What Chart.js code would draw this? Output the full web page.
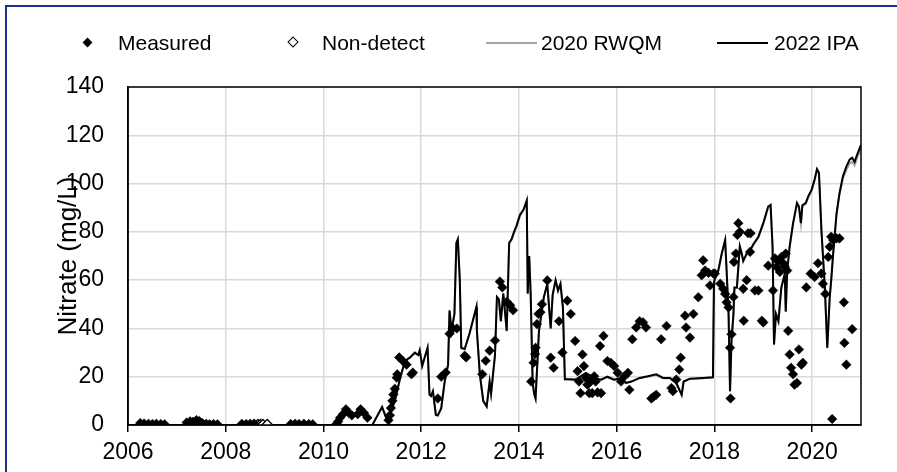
<!DOCTYPE html>
<html>
<head>
<meta charset="utf-8">
<script src="https://cdn.jsdelivr.net/npm/chart.js@4"></script>
<style>
  html, body { margin: 0; padding: 0; overflow: hidden; background: #fff; }
  #wrap { position: relative; width: 897px; height: 472px; overflow: hidden; font-family: "Liberation Sans", Arial, sans-serif; }
  #frame { position: absolute; left: 5px; top: 5px; width: 1000px; height: 1000px; border: 2px solid #1f2f8f; box-sizing: border-box; }
  canvas { position: absolute; left: 0; top: 0; }
  .lg { position: absolute; font-size: 21px; line-height: 24px; top: 31px; color: #000; white-space: nowrap; }
  .dia { position: absolute; width: 7px; height: 7px; transform: rotate(45deg); top: 39px; box-sizing: border-box; }
  .ln { position: absolute; height: 2px; top: 42px; }
</style>
</head>
<body>
<div id="wrap">
  <div id="frame"></div>
  <canvas id="c" width="897" height="472"></canvas>
  <div class="dia" style="left:84px; background:#000;"></div>
  <div class="lg" style="left:118px;">Measured</div>
  <div class="dia" style="left:289px; background:#fff; border:1.5px solid #000; width:8px; height:8px; top:38px;"></div>
  <div class="lg" style="left:322px;">Non-detect</div>
  <div class="ln" style="left:486px; width:51px; background:#a6a6a6;"></div>
  <div class="lg" style="left:541px;">2020 RWQM</div>
  <div class="ln" style="left:717px; width:51px; background:#000;"></div>
  <div class="lg" style="left:774px;">2022 IPA</div>
</div>
<script>
const xTickValues = [2006, 2008, 2010, 2012, 2014, 2016, 2018, 2020];
const yTickValues = [0, 20, 40, 60, 80, 100, 120, 140];

const measYears = [
  2006.25,2006.33,2006.42,2006.5,2006.58,2006.67,2006.75,
  2007.2,2007.27,2007.33,2007.4,2007.46,2007.52,2007.6,2007.67,2007.75,2007.83,
  2008.33,2008.42,2008.5,2008.58,
  2009.33,2009.42,2009.5,2009.6,2009.7,2009.78,
  2010.27,2010.3,2010.34,2010.4,2010.46,2010.52,2010.58,2010.7,2010.76,2010.83,2010.9,
  2011.33,2011.36,2011.38,2011.41,2011.43,2011.46,2011.5,2011.51,2011.55,2011.62,2011.7,2011.8,2011.83,
  2012.34,2012.41,2012.5,2012.58,2012.65,2012.73,2012.89,2012.92,
  2013.25,2013.32,2013.4,2013.51,2013.61,2013.66,2013.75,2013.82,2013.88,
  2014.25,2014.3,2014.33,2014.34,2014.37,2014.4,2014.44,2014.47,2014.58,2014.65,2014.71,2014.82,2014.89,2014.99,
  2015.06,2015.15,2015.2,2015.23,2015.26,2015.3,2015.33,2015.37,2015.4,2015.44,2015.47,2015.5,2015.54,2015.57,2015.61,2015.66,2015.68,2015.73,2015.81,2015.88,2015.95,
  2016.02,2016.09,2016.16,2016.23,2016.26,2016.32,2016.4,2016.47,2016.54,2016.6,2016.71,2016.76,2016.81,2016.91,
  2017.02,2017.12,2017.15,2017.22,2017.28,2017.31,2017.4,2017.42,2017.5,2017.57,2017.67,2017.74,2017.77,2017.81,2017.88,2017.91,2017.98,
  2018.01,2018.12,2018.18,2018.22,2018.25,2018.29,2018.32,2018.33,2018.35,2018.39,2018.4,2018.44,2018.47,2018.49,2018.52,2018.59,2018.6,2018.66,2018.69,2018.73,2018.74,2018.83,2018.9,2018.97,
  2019.0,2019.1,2019.2,2019.24,2019.27,2019.31,2019.34,2019.37,2019.41,2019.44,2019.46,2019.49,2019.51,2019.54,2019.57,2019.61,2019.64,2019.69,2019.73,2019.78,2019.81,2019.88,2019.97,
  2020.05,2020.12,2020.19,2020.22,2020.27,2020.33,2020.36,2020.39,2020.41,2020.43,2020.5,2020.56,2020.65,2020.66,2020.7,2020.82
];
const measValues = [
  0.8,0.6,0.5,0.4,0.5,0.4,0.3,
  1.0,1.5,1.3,2.0,1.6,0.8,0.5,0.3,0.4,0.3,
  0.5,0.4,0.5,0.6,
  0.4,0.5,0.4,0.5,0.4,0.3,
  0.5,1.5,3,4.5,6.5,5,4,4.5,6.5,5,3,
  2,4,7,10,12.6,15,19.6,21,28,26.6,25,21,21.7,
  11,20,21.7,37.8,40,40,28.7,28,
  21,26.6,30.8,35,59.4,57,51,49.6,47.5,
  18,25.8,29.4,32,41.8,46,46.7,50,59.9,27.9,23.7,43,30,51.5,
  46,34.8,22.3,18,13.2,29.2,24.4,19.5,16.7,13.2,18,13.2,20.2,18,13.5,32.7,13.2,36.9,26.5,25.8,24.4,
  21.6,18,20.2,21.6,14.6,35.5,40.4,43,42.5,40.4,11,11.8,12.5,35.5,
  41,15.3,14,18.8,23,27.9,45.3,40.4,36.2,46,52.9,62,68.2,64,63,57.8,62.7,
  62.7,58.5,56.4,54.3,50.8,48.7,32,11,37.6,53,67.5,71,78.7,83.6,80,56.4,43.2,60,79.4,71.7,79.4,55.7,55.7,43.2,
  42.5,66,55.7,69,65.5,68,63.4,69.6,67,65.5,71,64,39,29.2,23.7,21,16.7,17.4,31.3,25,25.8,57,62.7,
  61.3,67,62.7,58.5,54.3,69.6,73.8,78,2.5,76.6,77.3,77.3,50.8,34,25,39.7
];

const ndYears = [2008.66, 2008.71, 2008.76, 2008.85];
const ndValues = [0, 0, 0, 0];

const ipaYears = [
  2006.0,2011.0,2011.2,2011.3,2011.33,2011.46,2011.57,2011.67,2011.77,2011.87,2011.94,2011.97,
  2012.02,2012.13,2012.17,2012.2,2012.24,2012.3,2012.34,2012.41,2012.48,2012.55,2012.58,2012.62,2012.68,2012.72,2012.75,2012.79,2012.82,2012.89,2012.99,
  2013.13,2013.14,2013.2,2013.27,2013.34,2013.4,2013.43,2013.51,2013.55,2013.59,2013.63,2013.68,2013.75,2013.8,2013.85,2013.9,2013.95,
  2014.02,2014.1,2014.16,2014.18,2014.21,2014.24,2014.28,2014.31,2014.34,2014.41,2014.51,2014.58,2014.65,2014.69,2014.75,2014.8,2014.85,2014.9,2014.94,2014.99,
  2015.16,2015.37,2015.54,2015.68,2015.81,2015.95,2016.09,2016.19,2016.3,2016.47,2016.64,2016.81,2016.95,
  2017.09,2017.22,2017.33,2017.37,2017.5,2017.77,2017.97,2017.99,
  2018.0,2018.08,2018.15,2018.22,2018.25,2018.29,2018.32,2018.35,2018.39,2018.41,2018.46,2018.49,2018.52,2018.56,2018.59,2018.66,2018.73,2018.8,2018.9,
  2019.0,2019.1,2019.15,2019.19,2019.22,2019.26,2019.31,2019.37,2019.44,2019.46,2019.49,2019.54,2019.61,2019.69,2019.73,2019.77,2019.8,2019.87,2019.92,2019.99,
  2020.05,2020.1,2020.14,2020.19,2020.26,2020.31,2020.36,2020.39,2020.43,2020.5,2020.56,2020.63,2020.7,2020.77,2020.82,2020.87,2020.91,2020.96,2021.0
];
const ipaValues = [
  0,0,7.5,2,2.5,10,19.6,26.6,28,30,29,31,
  24.5,32,12.6,12,14,4.2,4,7,18,25,47.5,39,46,75.5,77,60,32,31.5,38,
  49,39,21,10,7.7,18,13,29,53,52,43,54.5,39,75.5,77,80,82.5,
  87,89.5,93,54.5,70,54.5,18,13,11,39,53,58.5,40,54,60,55.7,58.5,48.7,19,19,
  18.8,21.6,19.5,18.8,20,18.8,19.5,17.4,18,19.5,20.2,21,19.5,
  19.5,17.4,12.5,18,19.2,19.5,19.8,57,
  60,64,71,76.6,64,46,14,35,46,57,57,65.5,74,71,68,71,72.4,75,78,
  83.6,90.5,91.2,74,33.4,46,43,57,62.7,47,64,74,83.6,92,90.5,83.6,91,92,94.7,97.5,
  101.7,106,104.5,80.8,57,32,53,60,71,87.7,96,103,107,110,110.7,109,111.4,114,116
];

const rwqmYears = [
  2006.0,2011.0,2011.2,2011.3,2011.33,2011.46,2011.57,2011.67,2011.77,2011.87,2011.94,2011.97,
  2012.02,2012.13,2012.17,2012.2,2012.24,2012.3,2012.34,2012.41,2012.48,2012.55,2012.58,2012.62,2012.68,2012.72,2012.75,2012.79,2012.82,2012.89,2012.99,
  2013.13,2013.14,2013.2,2013.27,2013.34,2013.4,2013.43,2013.51,2013.55,2013.59,2013.63,2013.68,2013.75,2013.8,2013.85,2013.9,2013.95,
  2014.02,2014.1,2014.16,2014.18,2014.21,2014.24,2014.28,2014.31,2014.34,2014.41,2014.51,2014.58,2014.65,2014.69,2014.75,2014.8,2014.85,2014.9,2014.94,2014.99,
  2015.16,2015.37,2015.54,2015.68,2015.81,2015.95,2016.09,2016.19,2016.3,2016.47,2016.64,2016.81,2016.95,
  2017.09,2017.22,2017.33,2017.37,2017.5,2017.77,2017.97,2017.99,
  2018.0,2018.08,2018.15,2018.22,2018.25,2018.29,2018.32,2018.35,2018.39,2018.41,2018.46,2018.49,2018.52,2018.56,2018.59,2018.66,2018.73,2018.8,2018.9,
  2019.0,2019.1,2019.15,2019.19,2019.22,2019.26,2019.31,2019.37,2019.44,2019.46,2019.49,2019.54,2019.61,2019.69,2019.73,2019.77,2019.8,2019.87,2019.92,2019.99,
  2020.05,2020.1,2020.14,2020.19,2020.26,2020.31,2020.36,2020.39,2020.43,2020.5,2020.56,2020.63,2020.7,2020.77,2020.82,2020.87,2020.91,2020.96,2021.0
];
const rwqmValues = [
  0,0,7.3,2,2.4,9.8,19.4,26.4,27.8,29.8,28.8,30.8,
  24.3,31.8,12.5,11.9,13.9,4.1,3.9,6.9,17.8,24.8,47.2,38.8,45.8,75.2,76.6,59.7,31.8,31.3,37.8,
  48.7,38.8,20.8,9.9,7.6,17.8,12.9,28.8,52.7,51.7,42.8,54.2,38.8,75.1,76.6,79.6,82.1,
  86.6,89.1,92.6,54.2,69.6,54.2,17.9,12.9,10.9,38.8,52.7,58.2,39.8,53.7,59.7,55.4,58.2,48.5,18.9,18.9,
  18.7,21.4,19.4,18.7,19.8,18.7,19.4,17.3,17.9,19.4,20.1,20.8,19.4,
  19.4,17.3,12.4,17.9,19.1,19.4,19.7,56.7,
  59.7,63.7,70.6,76.2,63.7,45.8,13.9,34.8,45.8,56.7,56.7,65.2,73.6,70.6,67.7,70.6,72,74.6,77.6,
  83.2,90,90.7,73.6,33.2,45.8,42.8,56.7,62.4,46.8,63.7,73.6,83.2,91.5,90,83.2,90.5,91.5,94.2,97,
  101.2,105.5,104,80.4,56.7,31.8,52.7,59.7,70.6,87.2,95.4,102.2,105.6,108.4,109,107.5,110,112.6,115
];

const toPts = (xs, ys) => xs.map((x, i) => ({ x: x, y: ys[i] }));

const frame = {
  id: 'frame',
  afterDraw(chart) {
    const a = chart.chartArea, ctx = chart.ctx;
    ctx.save();
    ctx.strokeStyle = '#000';
    ctx.lineWidth = 1.5;
    ctx.strokeRect(a.left, a.top, a.right - a.left, a.bottom - a.top);
    ctx.restore();
  }
};

const FONT = '"Liberation Sans", Arial, sans-serif';

new Chart(document.getElementById('c'), {
  type: 'scatter',
  data: {
    datasets: [
      { label: 'Measured', data: toPts(measYears, measValues), pointStyle: 'rectRot', pointRadius: 4.8, pointBackgroundColor: '#000', pointBorderColor: '#000', pointBorderWidth: 0.5, showLine: false },
      { label: 'Non-detect', data: toPts(ndYears, ndValues), pointStyle: 'rectRot', pointRadius: 5.5, pointBackgroundColor: '#fff', pointBorderColor: '#000', pointBorderWidth: 1.3, showLine: false },
      { label: '2022 IPA', data: toPts(ipaYears, ipaValues), showLine: true, borderColor: '#000', borderWidth: 2, pointRadius: 0, tension: 0, fill: false },
      { label: '2020 RWQM', data: toPts(rwqmYears, rwqmValues), showLine: true, borderColor: '#a6a6a6', borderWidth: 2, pointRadius: 0, tension: 0, fill: false }
    ]
  },
  options: {
    responsive: false,
    animation: false,
    devicePixelRatio: 1,
    layout: { padding: { left: 0, right: 36, top: 87, bottom: 0 } },
    plugins: { legend: { display: false }, tooltip: { enabled: false } },
    scales: {
      x: {
        type: 'linear',
        min: 2006, max: 2021,
        afterFit(s) { s.height = 47; },
        afterBuildTicks(s) { s.ticks = xTickValues.map(v => ({ value: v })); },
        ticks: { color: '#000', font: { family: FONT, size: 23 }, padding: 7, maxRotation: 0, callback: v => String(v) },
        grid: { color: '#d9d9d9', lineWidth: 1.5, tickColor: '#000', tickLength: 7, tickWidth: 1.5 },
        border: { color: '#000', width: 1.5 }
      },
      y: {
        min: 0, max: 140,
        afterFit(s) { s.width = 128; },
        afterBuildTicks(s) { s.ticks = yTickValues.map(v => ({ value: v })); },
        ticks: { color: '#000', font: { family: FONT, size: 23 }, padding: 24, callback: v => String(v) },
        grid: { color: '#d9d9d9', lineWidth: 1.5, drawTicks: false },
        border: { color: '#000', width: 1.5 },
        title: { display: true, text: 'Nitrate (mg/L)', color: '#000', font: { family: FONT, size: 26 }, padding: { top: 53, bottom: 0 } }
      }
    }
  },
  plugins: [frame]
});
</script>
</body>
</html>
